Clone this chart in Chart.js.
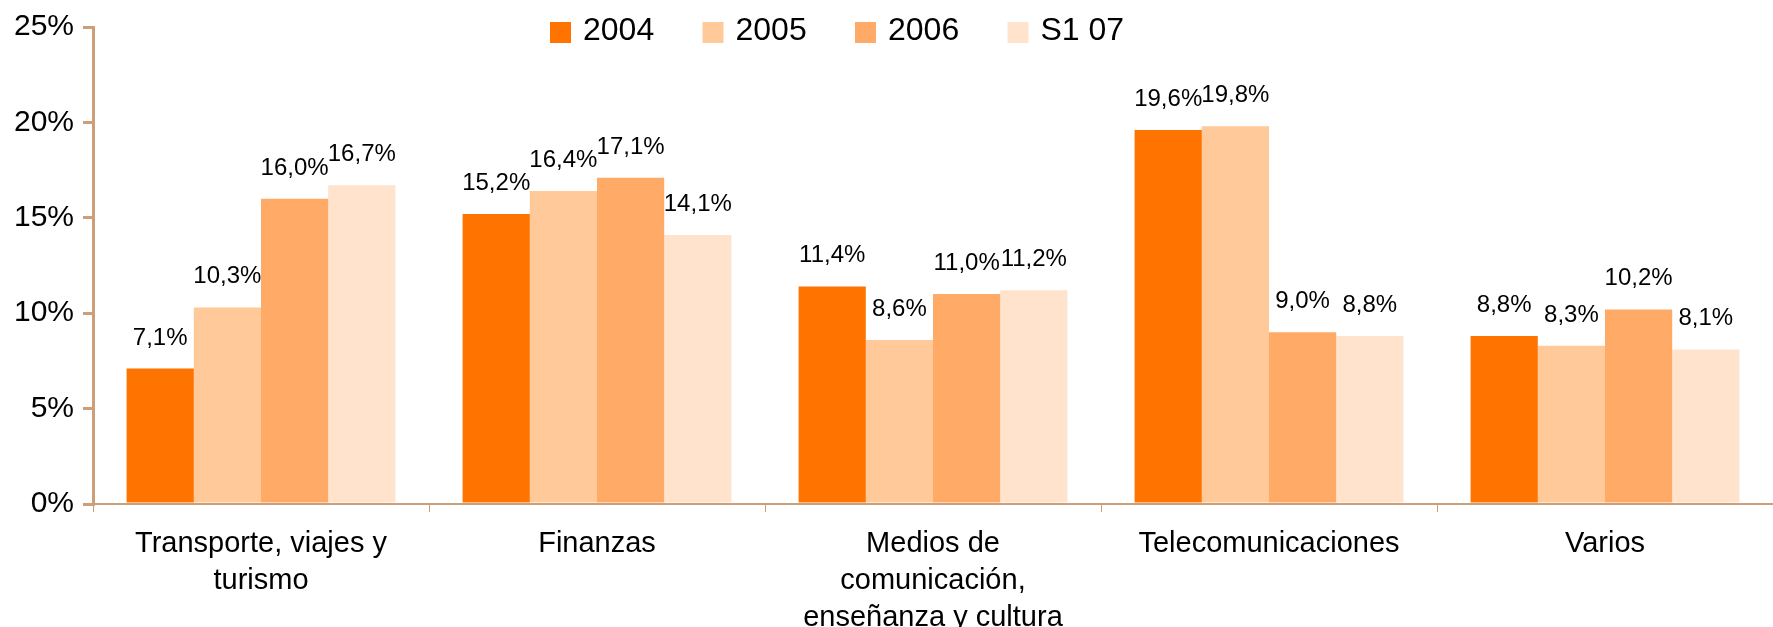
<!DOCTYPE html>
<html>
<head>
<meta charset="utf-8">
<script src="https://cdn.jsdelivr.net/npm/chart.js@4.4.0/dist/chart.umd.min.js"></script>
<style>
    html, body { margin: 0; padding: 0; background: #fff; }
    canvas { display: block; }
</style>
</head>
<body>
<canvas id="chartSectores" width="1773" height="627"></canvas>
<script>
const categorias = [
    ['Transporte, viajes y', 'turismo'],
    'Finanzas',
    ['Medios de', 'comunicación,', 'enseñanza y cultura'],
    'Telecomunicaciones',
    'Varios'
];
const series = ['2004', '2005', '2006', 'S1 07'];
const valores2004 = [7.1, 15.2, 11.4, 19.6, 8.8];
const valores2005 = [10.3, 16.4, 8.6, 19.8, 8.3];
const valores2006 = [16.0, 17.1, 11.0, 9.0, 10.2];
const valoresS107 = [16.7, 14.1, 11.2, 8.8, 8.1];
const ticksY = [0, 5, 10, 15, 20, 25];

const colores = ['#FF7300', '#FFC999', '#FFAA66', '#FFE3CC'];
const colorEje = '#CC9F78';
const fuente = "'Liberation Sans', Arial, sans-serif";

const sectoresData = {
    labels: categorias,
    datasets: [valores2004, valores2005, valores2006, valoresS107].map((v, i) => ({
        label: series[i],
        data: v,
        backgroundColor: colores[i],
        borderWidth: 0,
        barPercentage: 1.0,
        categoryPercentage: 0.8
    }))
};

// etiquetas de valor encima de cada barra
const etiquetasValor = {
    id: 'etiquetasValor',
    afterDatasetsDraw(chart) {
        const ctx = chart.ctx;
        ctx.save();
        ctx.font = '24px ' + fuente;
        ctx.fillStyle = '#000';
        ctx.textAlign = 'center';
        ctx.textBaseline = 'alphabetic';
        chart.data.datasets.forEach((ds, i) => {
            chart.getDatasetMeta(i).data.forEach((bar, j) => {
                const txt = ds.data[j].toFixed(1).replace('.', ',') + '%';
                ctx.fillText(txt, bar.x, bar.y - 24);
            });
        });
        ctx.restore();
    }
};

// leyenda arriba, dentro del area del grafico
const leyenda = {
    id: 'leyenda',
    afterDraw(chart) {
        const ctx = chart.ctx;
        ctx.save();
        ctx.font = '32px ' + fuente;
        ctx.textBaseline = 'alphabetic';
        ctx.textAlign = 'left';
        chart.data.datasets.forEach((ds, i) => {
            const x = 550 + i * 152.5;
            ctx.fillStyle = ds.backgroundColor;
            ctx.fillRect(x, 22, 21, 21);
            ctx.fillStyle = '#000';
            ctx.fillText(ds.label, x + 33, 40);
        });
        ctx.restore();
    }
};

const ctxSectores = document.getElementById('chartSectores').getContext('2d');
const chartSectores = new Chart(ctxSectores, {
    type: 'bar',
    data: sectoresData,
    plugins: [etiquetasValor, leyenda],
    options: {
        responsive: false,
        animation: false,
        layout: {
            padding: { top: 23, right: 0, bottom: 0, left: 0 }
        },
        plugins: {
            legend: { display: false },
            tooltip: { enabled: false }
        },
        scales: {
            x: {
                grid: {
                    offset: true,
                    drawOnChartArea: false,
                    drawTicks: true,
                    tickLength: 8,
                    color: colorEje,
                    lineWidth: 1
                },
                border: { color: colorEje, width: 2 },
                ticks: {
                    color: '#000',
                    padding: 13,
                    maxRotation: 0,
                    autoSkip: false,
                    font: { family: fuente, size: 29, lineHeight: 1.28 }
                },
                afterFit: s => { s.height = 123; }
            },
            y: {
                min: 0,
                max: 25,
                afterBuildTicks: s => { s.ticks = ticksY.map(v => ({ value: v })); },
                grid: {
                    drawOnChartArea: false,
                    drawTicks: true,
                    tickLength: 10,
                    color: colorEje,
                    lineWidth: 3
                },
                border: { color: colorEje, width: 3 },
                ticks: {
                    color: '#000',
                    padding: 9,
                    font: { family: fuente, size: 30 },
                    callback: v => v + '%'
                },
                afterFit: s => { s.width = 93; }
            }
        }
    }
});
</script>
</body>
</html>
